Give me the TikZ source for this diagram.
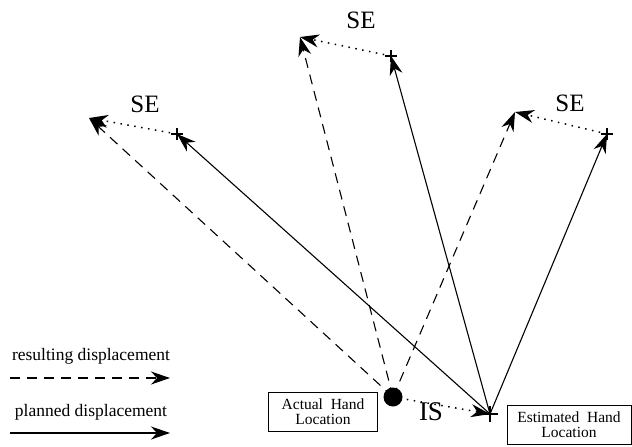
\documentclass[tikz,border=0pt]{standalone}
\usepackage{fontspec}
\setmainfont{Liberation Serif}
\usetikzlibrary{arrows.meta,calc}
\tikzset{
  tip/.style={-{Stealth[length=19pt,width=13pt,inset=6pt]}},
  planned/.style={tip, line width=1.1pt},
  resulting/.style={tip, line width=1.1pt, dash pattern=on 10pt off 7pt},
  noise/.style={tip, line width=1.5pt, dash pattern=on 1.5pt off 5.5pt},
  hand/.style={draw, line width=0.6pt, align=center, font=\fontsize{15.5}{15}\selectfont, inner sep=2pt},
  selabel/.style={font=\fontsize{25}{26}\selectfont},
  legend/.style={font=\fontsize{17.5}{18}\selectfont},
}
\newcommand{\plusmark}[2]{\draw[line width=1.3pt] ($(#1)+(-#2,0)$) -- ($(#1)+(#2,0)$) ($(#1)+(0,-#2)$) -- ($(#1)+(0,#2)$);}
\begin{document}
\begin{tikzpicture}[x=1pt,y=-1pt]
        \useasboundingbox (0,0) rectangle (632,447);

        % Hand positions
        \coordinate (actual) at (393,397);
        \coordinate (estim) at (490,414);

        % Planned targets (crosses) and where the hand ends (SE)
        \coordinate (tl) at (177,134);
        \coordinate (tm) at (391,56);
        \coordinate (tr) at (607,134);
        \coordinate (el) at (89,118);
        \coordinate (em) at (300,37);
        \coordinate (er) at (515,112);

        % planned displacements
        \draw[planned] (estim) -- (tl);
        \draw[planned] (estim) -- (tm);
        \draw[planned] (estim) -- (tr);

        % execution errors
        \draw[noise] (tl) -- (el);
        \draw[noise] (tm) -- (em);
        \draw[noise] (tr) -- (er);

        % resulting displacements
        \draw[resulting] (actual) -- (el);
        \draw[resulting] (actual) -- (em);
        \draw[resulting] (actual) -- (er);

        % estimation error
        \draw[noise] (actual) -- (estim);

        % marks
        \plusmark{tl}{6}
        \plusmark{tm}{6}
        \plusmark{tr}{6}
        \plusmark{estim}{8}
        \fill (actual) circle (9.5);

        % labels
        \node[selabel] (sel) at (145,104) {SE};
        \node[selabel] (sem) at (361,20) {SE};
        \node[selabel] (ser) at (570,103) {SE};
        \node[font=\fontsize{27}{28}\selectfont] (is) at (431,412) {IS};
        \node[hand, minimum width=109pt, minimum height=39pt] (actbox) at (323,412) {Actual\ \ Hand\\Location};
        \node[hand, minimum width=124pt, minimum height=39pt] (estbox) at (569,425) {Estimated\ \ Hand\\Location};

        % Legend
        \node[legend] (lres) at (91,356) {resulting displacement};
        \coordinate (lres1) at (10,378);
        \coordinate (lres2) at (170,378);
        \draw[resulting] (lres1) -- (lres2);
        \node[legend] (lpl) at (91,412) {planned displacement};
        \coordinate (lpl1) at (10,433);
        \coordinate (lpl2) at (170,433);
        \draw[planned] (lpl1) -- (lpl2);
\end{tikzpicture}
\end{document}
